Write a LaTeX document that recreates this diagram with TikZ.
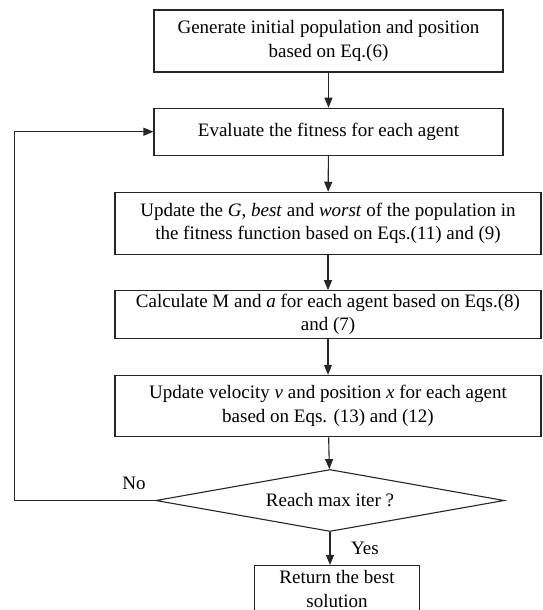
\documentclass[tikz,border=0pt]{standalone}
\usepackage{fontspec}
\setmainfont{Liberation Serif}
\usetikzlibrary{shapes.geometric,arrows.meta}

\tikzset{
	box/.style = {draw = black!85, line width = 1.1pt, rectangle, align = center, inner sep = 0pt},
	decision/.style = {draw = black!85, line width = 1.1pt, diamond, aspect = 5.6, align = center, inner sep = 0pt},
	flow/.style = {draw = black!85, line width = 1.1pt, -{Triangle[length = 10pt, width = 8pt]}}
}

\begin{document}
\begin{tikzpicture}[x = 1pt, y = -1pt, font = \fontsize{19pt}{23.5pt}\selectfont]
						\useasboundingbox (0, 0) rectangle (542, 610);
						\clip (0, 0) rectangle (542, 610);

						\node [box, minimum width = 349pt, minimum height = 62pt] (gen) at (328.5, 41) {Generate initial population and position\\based on Eq.(6)};
						\node [box, minimum width = 349pt, minimum height = 47pt] (eval) at (328.5, 131.7) {Evaluate the fitness for each agent};
						\node [box, minimum width = 426pt, minimum height = 62pt] (upd) at (328, 223.3) {Update the \textit{G}, \textit{best} and \textit{worst} of the population in\\the fitness function based on Eqs.(11) and (9)};
						\node [box, minimum width = 426pt, minimum height = 47.6pt] (calc) at (328, 314.5) {Calculate M and \textit{a} for each agent based on Eqs.(8)\\and (7)};
						\node [box, minimum width = 426pt, minimum height = 61.4pt] (vel) at (328, 406) {Update velocity \textit{v} and position \textit{x} for each agent\\based on Eqs. (13) and (12)};
						\node [decision, minimum width = 348.6pt, minimum height = 62pt] (iter) at (330, 500.5) {Reach max iter ?};
						\node [box, minimum width = 165pt, minimum height = 47pt] (ret) at (337, 589) {Return the best\\solution};

						\coordinate (c1) at (14.7, 500.5);
						\coordinate (c2) at (14.7, 131.7);

						\draw [flow] (gen) -- (eval);
						\draw [flow] (eval) -- (upd);
						\draw [flow] (upd) -- (calc);
						\draw [flow] (calc) -- (vel);
						\draw [flow] (vel) -- (iter);
						\draw [flow] (iter.south) -- (iter.south |- ret.north);
						\draw [flow] (iter.west) -- (c1) -- (c2) -- (eval.west);

						\node (no) at (134, 483) {No};
						\node (yes) at (365, 548) {Yes};
					\end{tikzpicture}
\end{document}
